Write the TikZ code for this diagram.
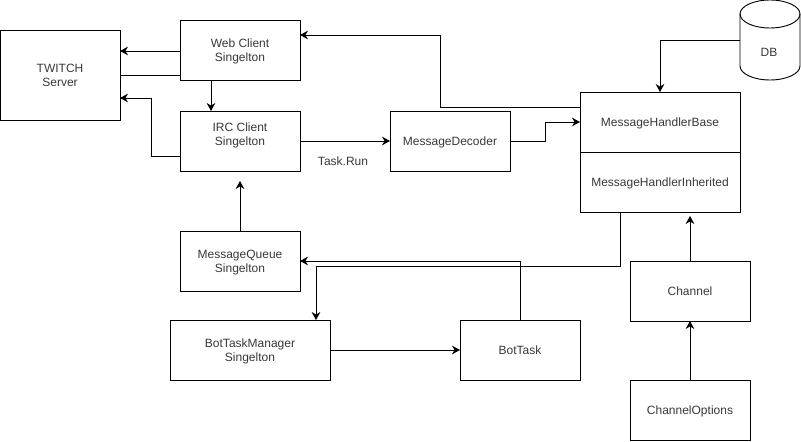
\documentclass[tikz,border=0pt]{standalone}
\usepackage{fontspec}
\setmainfont{Liberation Sans}
\usetikzlibrary{arrows.meta}
\definecolor{labelgray}{gray}{0.22}
\tikzset{
    label text/.style={text=labelgray, font=\fontsize{9}{10.5}\selectfont},
    box/.style={draw, line width=0.7pt, minimum width=90pt, minimum height=45pt, outer sep=0pt,
        align=center, text depth=0pt, label text},
    widebox/.style={box, minimum width=120pt},
    conn/.style={line width=0.7pt},
    arrow/.style={conn, -{Stealth[length=6pt,width=6.5pt]}}
}
\begin{document}
\begin{tikzpicture}[x=0.75pt,y=-0.75pt]
        \useasboundingbox (0,0) rectangle (801,442);
        % Boxes on the left
        \node[box] (twitch) at (60,75) [minimum height=67.5pt] {TWITCH\\Server};
        \node[box] (web) at (240,50) {Web Client\\Singelton};
        \node[box] (irc) at (240,141) {IRC Client\\Singelton\\~};
        \node[box] (queue) at (240,261) {MessageQueue\\Singelton};
        \node[widebox] (manager) at (250,350) {BotTaskManager\\Singelton};
        % Boxes in the middle
        \node[box] (decoder) at (450,141) {MessageDecoder};
        \node[box] (bottask) at (520,350) {BotTask};
        % Boxes on the right
        \node[widebox] (base) at (660,122) {MessageHandlerBase};
        \node[widebox] (inherited) at (660,182) {MessageHandlerInherited};
        \node[box] (channel) at (690,291) {Channel};
        \node[box] (options) at (690,410) {ChannelOptions};
        % Database
        \node[minimum width=45pt, minimum height=60pt, outer sep=0pt] (db) at (770,40) {};
        \draw[conn] (770,14) ellipse [x radius=22.5pt, y radius=10.5pt];
        \draw[conn] (740,14) -- (740,66) arc [start angle=180, end angle=360, x radius=22.5pt, y radius=10.5pt] -- (800,14);
        \node[label text] (dbtext) at (769,52) {DB};
        % Label
        \node[label text] (taskrun) at (343,161) {Task.Run};
        % Connectors
        \draw[arrow] ([yshift=-0.75pt]web.west) -- ([yshift=-0.75pt]web.west -| twitch.east);
        \draw[conn] (twitch.east) -- (twitch.east -| web.west);
        \draw[arrow] ([xshift=-21.75pt]web.south) -- ([xshift=-21.75pt]irc.north);
        \draw[arrow] ([yshift=-11.25pt]irc.west) -- ++(-29,0) |- ([yshift=-17.25pt]twitch.east);
        \draw[arrow] (irc.east) -- (decoder.west);
        \draw[arrow] (queue.north) -- ([yshift=-7.5pt]irc.south);
        \draw[arrow] ([yshift=11.25pt]base.west) -- ++(-140,0) |- ([yshift=11.25pt]web.east);
        \draw[arrow] (decoder.east) -- ++(35,0) |- (base.west);
        \draw[arrow] (db.west) -| (base.north);
        \draw[arrow] (channel.north) -- ([xshift=22.5pt,yshift=-3pt]inherited.south);
        \draw[arrow] (options.north) -- (channel.south);
        \draw[arrow] ([xshift=-30pt]inherited.south) |- (316,266) -- ([xshift=49.5pt]manager.north);
        \draw[arrow] (bottask.north) |- (queue.east);
        \draw[arrow] (manager.east) -- (bottask.west);
    \end{tikzpicture}
\end{document}
